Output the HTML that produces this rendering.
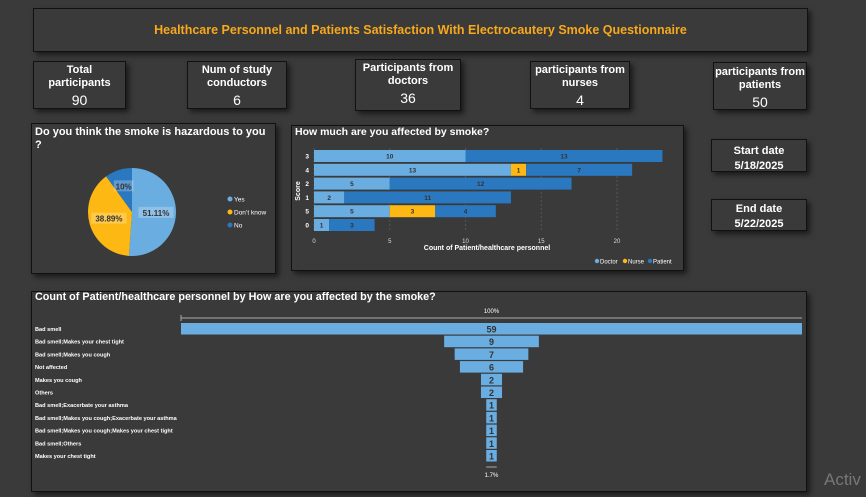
<!DOCTYPE html>
<html><head><meta charset="utf-8">
<style>
body{margin:0;width:866px;height:497px;background:#3a3a3a;overflow:hidden;font-family:"Liberation Sans",Arial,sans-serif;position:relative}
.box{position:absolute;border:1px solid #111;background:#3a3a3a;box-shadow:3px 3px 5px rgba(0,0,0,.55);box-sizing:border-box}
.card{color:#fff;text-align:center;font-weight:bold;font-size:11px;line-height:13px;padding-top:2px}
.card .v{font-size:14px;font-weight:normal;margin-top:4px}
svg{position:absolute;left:0;top:0}
</style></head><body>
<div class="box" style="left:33px;top:8px;width:775px;height:44px;color:#f7a81b;font-weight:bold;font-size:12.5px;text-align:center;line-height:42px">Healthcare Personnel and Patients Satisfaction With Electrocautery Smoke Questionnaire</div>
<div class="box card" style="left:33px;top:61px;width:93px;height:48px">Total<br>participants<div class="v">90</div></div>
<div class="box card" style="left:187px;top:61px;width:100px;height:48px">Num of study<br>conductors<div class="v">6</div></div>
<div class="box card" style="left:355px;top:59px;width:106px;height:52px">Participants from<br>doctors<div class="v">36</div></div>
<div class="box card" style="left:530px;top:61px;width:100px;height:48px">participants from<br>nurses<div class="v">4</div></div>
<div class="box card" style="left:713px;top:62px;width:94px;height:48px;padding-top:3px">participants from<br>patients<div class="v">50</div></div>
<div class="box card" style="left:711px;top:139px;width:96px;height:33px;padding-top:4px;line-height:15px">Start date<br>5/18/2025</div>
<div class="box card" style="left:711px;top:199px;width:96px;height:32px;padding-top:2px;line-height:15px">End date<br>5/22/2025</div>
<div class="box" style="left:31px;top:123px;width:245px;height:151px"></div>
<div class="box" style="left:291px;top:125px;width:393px;height:146px"></div>
<div class="box" style="left:31px;top:291px;width:776px;height:201px"></div>
<div style="position:absolute;left:824px;top:470px;color:#777;font-size:17px">Activ</div>
<svg id="s" width="866" height="497" font-family="Liberation Sans, Arial, sans-serif"></svg>
<script>
const pieLabels=["Yes","Don’t know","No"];
const pieValues=[51.11,38.89,10];
const pieColors=["#6aade0","#fdb813","#2a78c0"];
const barCats=["3","4","2","1","5","0"];
const doctor=[10,13,5,2,5,1];
const nurse=[0,1,0,0,3,0];
const patient=[13,7,12,11,4,3];
const xTicks=[0,5,10,15,20];
const funLabels=["Bad smell","Bad smell;Makes your chest tight","Bad smell;Makes you cough","Not affected","Makes you cough","Others","Bad smell;Exacerbate your asthma","Bad smell;Makes you cough;Exacerbate your asthma","Bad smell;Makes you cough;Makes your chest tight","Bad smell;Others","Makes your chest tight"];
const funValues=[59,9,7,6,2,2,1,1,1,1,1];

const S=document.getElementById('s'),NS='http://www.w3.org/2000/svg';
function mk(t,a,txt){const e=document.createElementNS(NS,t);for(const k in a)e.setAttribute(k,a[k]);if(txt!==undefined)e.textContent=txt;S.appendChild(e);return e;}
function tx(x,y,s,o){return mk('text',Object.assign({x:x,y:y,fill:'#fff','font-size':8,'font-weight':'bold'},o||{}),s);}

// Pie
let t1=tx(35,135,'Do you think the smoke is hazardous to you',{'font-size':11});

let t1b=tx(35,148,'?',{'font-size':11});

const cx=132,cy=212,r=44;let tot=pieValues.reduce((a,b)=>a+b,0),ang=-Math.PI/2;
pieValues.forEach((v,i)=>{const a2=ang+v/tot*2*Math.PI;const x1=cx+r*Math.cos(ang),y1=cy+r*Math.sin(ang),x2=cx+r*Math.cos(a2),y2=cy+r*Math.sin(a2);
 const p=mk('path',{d:`M${cx},${cy}L${x1},${y1}A${r},${r} 0 ${a2-ang>Math.PI?1:0} 1 ${x2},${y2}Z`,fill:pieColors[i]});
 
 const m=(ang+a2)/2,lr=i==2?27:24;const lx=cx+lr*Math.cos(m),ly=cy+lr*Math.sin(m);
 const lab=Math.round(v*100)/100+'%';
 mk('rect',{x:lx-lab.length*2.6-2,y:ly-6,width:lab.length*5.2+4,height:11,fill:'rgba(255,255,255,0.25)'});
 const l=tx(lx,ly+3,lab,{'text-anchor':'middle',fill:'#333','font-size':8});
 
 ang=a2;});
pieLabels.forEach((s,i)=>{const y=199+i*13;mk('circle',{cx:230,cy:y,r:2.5,fill:pieColors[i]});
 const l=tx(234,y+2.5,s,{'font-size':6.5,'font-weight':'normal'});});

// Stacked bar
let t2=tx(295,135,'How much are you affected by smoke?',{'font-size':10.5});

const x0=314,xs=(617-314)/20,xp=v=>x0+v*xs,yp=i=>156+i*13.8;
xTicks.forEach(t=>{mk('line',{x1:xp(t),x2:xp(t),y1:148,y2:232,stroke:'#555','stroke-dasharray':'2,2'});
 const l=tx(xp(t),243,t,{'text-anchor':'middle','font-size':6,'font-weight':'normal',fill:'#ddd'});});
const cols=["#6aade0","#fdb813","#2a78c0"];
barCats.forEach((c,i)=>{const y=yp(i);const cl=tx(309,y+2.5,c,{'text-anchor':'end','font-size':6.5});
 let acc=0;[doctor[i],nurse[i],patient[i]].forEach((v,j)=>{if(!v)return;const b=mk('rect',{x:xp(acc),y:y-6,width:v*xs,height:12,fill:cols[j]});
 
 tx(xp(acc+v/2),y+2.5,v,{'text-anchor':'middle','font-size':6.5,fill:'#333'});acc+=v;});});
let xt=tx(487,250,'Count of Patient/healthcare personnel',{'text-anchor':'middle','font-size':7});

let yt=tx(0,0,'Score',{'text-anchor':'middle','font-size':7,transform:'translate(300,191) rotate(-90)'});

["Doctor","Nurse","Patient"].forEach((s,i)=>{const x=[597,625,650][i];mk('circle',{cx:x,cy:261,r:2.2,fill:cols[i]});
 const l=tx(x+3,263.5,s,{'font-size':6,'font-weight':'normal'});});

// Funnel
let t3=tx(35,300,'Count of Patient/healthcare personnel by How are you affected by the smoke?',{'font-size':10.8});

const fc=491.5,fmax=Math.max(...funValues),fw=v=>v/fmax*621;
mk('line',{x1:fc-310.5,x2:fc+310.5,y1:318,y2:318,stroke:'#aaa'});mk('line',{x1:fc-310.5,x2:fc-310.5,y1:315,y2:321,stroke:'#aaa'});
tx(fc,313,'100%',{'text-anchor':'middle','font-size':6,'font-weight':'normal'});
funLabels.forEach((s,i)=>{const y=329+i*12.7,w=fw(funValues[i]);
 const l=tx(35,y+2,s,{'font-size':5.6,'font-weight':'bold'});
 const b=mk('rect',{x:fc-w/2,y:y-6,width:w,height:11.5,fill:'#6aade0'});
 tx(fc,y+3.5,funValues[i],{'text-anchor':'middle','font-size':9,fill:'#333'});});
const lw=fw(funValues[funValues.length-1]);
mk('line',{x1:fc-lw/2,x2:fc+lw/2,y1:467,y2:467,stroke:'#aaa'});
tx(fc,477,(funValues[funValues.length-1]/fmax*100).toFixed(1)+'%',{'text-anchor':'middle','font-size':6,'font-weight':'normal'});
</script>
</body></html>
